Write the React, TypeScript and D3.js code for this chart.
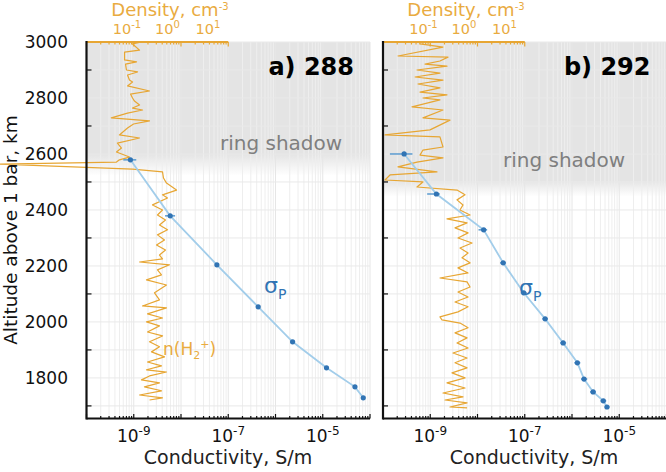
import React from 'react';
import * as d3 from 'd3';

const W = 666;
const H = 472;

// ---------- Panel a) 288 : H2+ density profile ----------
const altDensA = [3000,2993,2971,2964,2936,2929,2921,2900,2893,2882,2864,2857,2843,2825,2814,2800,2789,2775,2764,2757,2746,2729,2718,2707,2693,2668,2657,2639,2621,2607,2589,2579,2571,2564,2546,2536,2514,2496,2471,2454,2443,2418,2400,2382,2364,2346,2329,2311,2293,2275,2257,2239,2225,2214,2204,2186,2168,2150,2132,2104,2079,2057,2050,2029,2014,2000,1986,1964,1950,1929,1911,1893,1875,1857,1843,1829,1821,1807,1793,1782,1768,1754,1739,1729,1721];
const densA = [0.228,0.137,0.204,0.087,0.087,0.172,0.092,0.097,0.182,0.103,0.115,0.137,0.103,0.36,0.122,0.137,0.153,0.204,0.137,0.242,0.103,0.041,0.36,0.145,0.103,0.065,0.204,0.058,0.073,0.055,0.115,0.065,0.055,0.00007,0.137,0.753,0.796,0.945,1.67,0.753,1.0,0.427,0.753,0.566,0.893,0.634,1.0,0.566,0.843,0.535,0.893,0.634,0.753,0.204,1.12,0.566,0.711,0.303,0.945,0.478,0.634,0.242,0.945,0.321,0.753,0.303,0.634,0.321,0.753,0.36,0.634,0.403,0.843,0.321,0.711,0.303,0.945,0.36,0.228,0.634,0.27,0.711,0.204,0.753,0.36];

// Pedersen conductivity, panel a
const altSigA = [2579,2379,2204,2054,1929,1836,1768,1729];
const sigA = [8.5e-10,5.9e-9,5.75e-8,4.3e-7,2.3e-6,1.2e-5,4.8e-5,7.2e-5];
const sigLoA = [6.0e-10,4.6e-9,5.3e-8,4.0e-7,2.15e-6,1.13e-5,4.5e-5,6.8e-5];
const sigHiA = [1.13e-9,7.5e-9,6.2e-8,4.6e-7,2.45e-6,1.27e-5,5.1e-5,7.6e-5];

// ---------- Panel b) 292 ----------
const altDensB = [2993,2982,2950,2946,2932,2921,2914,2900,2889,2875,2864,2850,2836,2821,2811,2800,2793,2768,2757,2729,2721,2686,2668,2661,2625,2614,2596,2586,2571,2554,2536,2525,2507,2500,2482,2471,2454,2436,2418,2400,2382,2368,2354,2336,2318,2300,2282,2264,2246,2229,2211,2193,2175,2157,2143,2125,2107,2089,2071,2054,2036,2018,2007,1996,1979,1961,1943,1925,1907,1889,1871,1854,1836,1818,1800,1782,1764,1746,1732,1721,1711,1696,1693];
const densB = [0.082,0.303,0.0234,0.403,0.255,0.109,0.38,0.069,0.255,0.062,0.303,0.073,0.255,0.082,0.38,0.097,0.255,0.052,0.303,0.097,0.451,0.145,0.0112,0.255,0.303,0.097,0.082,0.303,0.069,0.0234,0.215,0.0149,0.0112,0.097,0.069,0.672,1.06,0.672,0.945,0.796,1.41,0.38,1.19,0.60,1.26,0.711,1.58,0.796,1.26,0.893,1.41,0.711,1.26,0.255,1.19,1.41,0.711,1.26,0.60,1.26,0.711,0.255,0.286,0.796,1.26,0.60,1.19,0.672,1.26,0.535,1.19,0.60,1.19,0.505,1.06,0.38,1.06,0.303,0.945,0.34,1.19,0.451,1.19];

const altSigB = [2600,2457,2329,2211,2104,2011,1925,1854,1796,1750,1718,1696];
const sigB = [2.8e-10,1.35e-9,1.35e-8,3.5e-8,9.5e-8,2.7e-7,6.5e-7,1.3e-6,1.8e-6,2.8e-6,4.6e-6,5.5e-6];
const sigLoB = [1.4e-10,8.6e-10,1.05e-8,3.0e-8,8.2e-8,2.35e-7,5.6e-7,1.12e-6,1.55e-6,2.4e-6,4.0e-6,4.9e-6];
const sigHiB = [4.2e-10,1.6e-9,1.6e-8,4.0e-8,1.1e-7,3.1e-7,7.5e-7,1.5e-6,2.1e-6,3.2e-6,5.3e-6,6.2e-6];

// ---------- Ticks ----------
const yTickLabels = [1800, 2000, 2200, 2400, 2600, 2800, 3000];
const yMinorTicks = [1700, 1900, 2100, 2300, 2500, 2700, 2900];
const yGrid = [1700,1800,1900,2000,2100,2200,2300,2400,2500,2600,2700,2800,2900,3000];
const xTickExps = [-9, -7, -5];
const densTickExps = [-1, 0, 1];

const ORANGE = '#e7a633';
const ORANGE_TXT = '#e9ab3f';
const BLUE_LINE = '#a2cdea';
const BLUE_PT = '#3174b4';
const FONT = 'DejaVu Sans, Verdana, sans-serif';

const yTop = 42;
const yBot = 418.5;
const y = d3.scaleLinear().domain([1655, 3000]).range([yBot, yTop]);

type Panel = {
  key: string;
  x0: number;
  x1: number;
  title: string;
  altD: number[];
  dens: number[];
  altS: number[];
  sig: number[];
  lo: number[];
  hi: number[];
  shadowSolid: number;
  shadowFade: number;
  ringX: number;
  ringY: number;
  sigX: number;
  sigY: number;
  condX: number;
  densTitleX: number;
  showN: boolean;
  showYLabels: boolean;
};

const panels: Panel[] = [
  { key: 'a', x0: 86.5, x1: 370, title: 'a) 288', altD: altDensA, dens: densA, altS: altSigA, sig: sigA, lo: sigLoA, hi: sigHiA,
    shadowSolid: 2600, shadowFade: 2522, ringX: 220, ringY: 150, sigX: 264, sigY: 293, condX: 228, densTitleX: 170, showN: true, showYLabels: true },
  { key: 'b', x0: 383, x1: 666.5, title: 'b) 292', altD: altDensB, dens: densB, altS: altSigB, sig: sigB, lo: sigLoB, hi: sigHiB,
    shadowSolid: 2505, shadowFade: 2448, ringX: 503, ringY: 167, sigX: 519, sigY: 295, condX: 534, densTitleX: 466, showN: false, showYLabels: false },
];

function logTicks(lo: number, hi: number) {
  const out: { v: number; major: boolean }[] = [];
  for (let e = lo; e <= hi; e++) {
    for (let m = 1; m <= 9; m++) {
      if (e === hi && m > 1) break;
      out.push({ v: m * Math.pow(10, e), major: m === 1 });
    }
  }
  return out;
}

function PanelView({ p }: { p: Panel }) {
  const x = d3.scaleLog().domain([1e-10, 1e-4]).range([p.x0, p.x1]);
  const dens = d3.scaleLog().domain([1e-2, 10]).range([p.x0, p.x0 + 121.5]);
  const topTick = d3.scaleLog().domain([1e-2, 10]).range([x(1e-10), x(1e-7)]);
  const condTicks = logTicks(-10, -4);
  const topTicks = logTicks(-2, 1);

  const densLine = d3.line<number>()
    .x((_, i) => dens(p.dens[i]))
    .y((_, i) => y(p.altD[i]))(p.altD) || '';
  const sigLine = d3.line<number>()
    .x((_, i) => x(p.sig[i]))
    .y((_, i) => y(p.altS[i]))(p.altS) || '';

  const sTop = y(3000);
  const sSolid = y(p.shadowSolid);
  const sFade = y(p.shadowFade);
  const gid = 'shade-' + p.key;

  return (
    <g>
      <defs>
        <linearGradient id={gid} x1="0" y1={sTop} x2="0" y2={sFade} gradientUnits="userSpaceOnUse">
          <stop offset="0" stopColor="#e4e4e4" stopOpacity={1} />
          <stop offset={(sSolid - sTop) / (sFade - sTop)} stopColor="#e4e4e4" stopOpacity={1} />
          <stop offset="1" stopColor="#e4e4e4" stopOpacity={0} />
        </linearGradient>
      </defs>
      <rect x={p.x0} y={sTop} width={p.x1 - p.x0} height={sFade - sTop} fill={`url(#${gid})`} />
      {/* grid */}
      {condTicks.map((t, i) => (
        <line key={'gv' + i} x1={x(t.v)} x2={x(t.v)} y1={yTop} y2={yBot}
          stroke={t.major ? '#e6e6e6' : '#eeeeee'} strokeWidth={1} />
      ))}
      {yGrid.map((a) => (
        <line key={'gh' + a} x1={p.x0} x2={p.x1} y1={y(a)} y2={y(a)} stroke="#e9e9e9" strokeWidth={1} />
      ))}
      {/* texts inside */}
      <text x={p.x1 - 16} y={75} textAnchor="end" fontFamily={FONT} fontWeight="bold" fontSize={24} fill="#000">{p.title}</text>
      <text x={p.ringX} y={p.ringY} fontFamily={FONT} fontSize={20} fill="#7f7f7f">ring shadow</text>

      {/* density */}
      <path d={densLine} fill="none" stroke={ORANGE} strokeWidth={1.2} strokeLinejoin="round" />

      {/* conductivity */}
      <path d={sigLine} fill="none" stroke={BLUE_LINE} strokeWidth={1.8} />
      {p.altS.map((a, i) => (
        <line key={'eb' + i} x1={x(p.lo[i])} x2={x(p.hi[i])} y1={y(a)} y2={y(a)} stroke="#5b9bd0" strokeWidth={1.5} />
      ))}
      {p.altS.map((a, i) => (
        <circle key={'pt' + i} cx={x(p.sig[i])} cy={y(a)} r={2.6} fill={BLUE_PT} />
      ))}
      <text x={p.sigX} y={p.sigY} fontFamily={FONT} fontSize={22} fill={BLUE_PT}>σ<tspan fontSize={14} dy={6}>P</tspan></text>
      {p.showN && (
        <text x={163} y={355} fontFamily={FONT} fontSize={17} fill={ORANGE_TXT}>n(H<tspan fontSize={11} dy={4}>2</tspan><tspan fontSize={11} dy={-11}>+</tspan><tspan dy={7}>)</tspan></text>
      )}

      {/* bottom axis */}
      <line x1={p.x0} x2={p.x1} y1={yBot} y2={yBot} stroke="#111" strokeWidth={2} />
      {condTicks.map((t, i) => (
        <line key={'bt' + i} x1={x(t.v)} x2={x(t.v)} y1={yBot} y2={yBot - (t.major ? 4.5 : 2.5)} stroke="#111" strokeWidth={1.2} />
      ))}
      {xTickExps.map((e) => (
        <text key={'xl' + e} x={x(Math.pow(10, e))} y={442} textAnchor="middle" fontFamily={FONT} fontSize={17} fill="#111">
          10<tspan fontSize={12} dy={-7}>{String(e)}</tspan>
        </text>
      ))}
      <text x={p.condX} y={464} textAnchor="middle" fontFamily={FONT} fontSize={19} fill="#222">Conductivity, S/m</text>

      {/* top (density) axis */}
      <line x1={p.x0} x2={topTick(10)} y1={yTop} y2={yTop} stroke={ORANGE} strokeWidth={2.2} />
      {topTicks.map((t, i) => (
        <line key={'tt' + i} x1={topTick(t.v)} x2={topTick(t.v)} y1={yTop} y2={yTop + (t.major ? 4.5 : 2.5)} stroke={ORANGE} strokeWidth={1.2} />
      ))}
      {densTickExps.map((e) => (
        <text key={'dl' + e} x={dens(Math.pow(10, e))} y={34} textAnchor="middle" fontFamily={FONT} fontSize={14.5} fill={ORANGE_TXT}>
          10<tspan fontSize={10} dy={-6}>{String(e)}</tspan>
        </text>
      ))}
      <text x={p.densTitleX} y={16} textAnchor="middle" fontFamily={FONT} fontSize={18} fill={ORANGE_TXT}>
        Density, cm<tspan fontSize={10} dy={-6}>-3</tspan>
      </text>

      {/* left axis */}
      <line x1={p.x0} x2={p.x0} y1={yTop - 1} y2={yBot + 1} stroke="#111" strokeWidth={2.2} />
      {yMinorTicks.map((a) => (
        <line key={'yt' + a} x1={p.x0} x2={p.x0 + 5} y1={y(a)} y2={y(a)} stroke="#111" strokeWidth={1.2} />
      ))}
      {p.showYLabels && yTickLabels.map((a) => (
        <text key={'yl' + a} x={68} y={y(a)} dy="0.36em" textAnchor="end" fontFamily={FONT} fontSize={17} fill="#111">{a}</text>
      ))}
    </g>
  );
}

export default function App() {
  return (
    <svg width={W} height={H} style={{ position: 'absolute', left: 0, top: 0, background: '#fff' }}>
      <rect x={0} y={0} width={W} height={H} fill="#fff" />
      {panels.map((p) => <PanelView key={p.key} p={p} />)}
      <text transform={`translate(17,230) rotate(-90)`} textAnchor="middle" fontFamily={FONT} fontSize={18.5} fill="#111">Altitude above 1 bar, km</text>
    </svg>
  );
}
